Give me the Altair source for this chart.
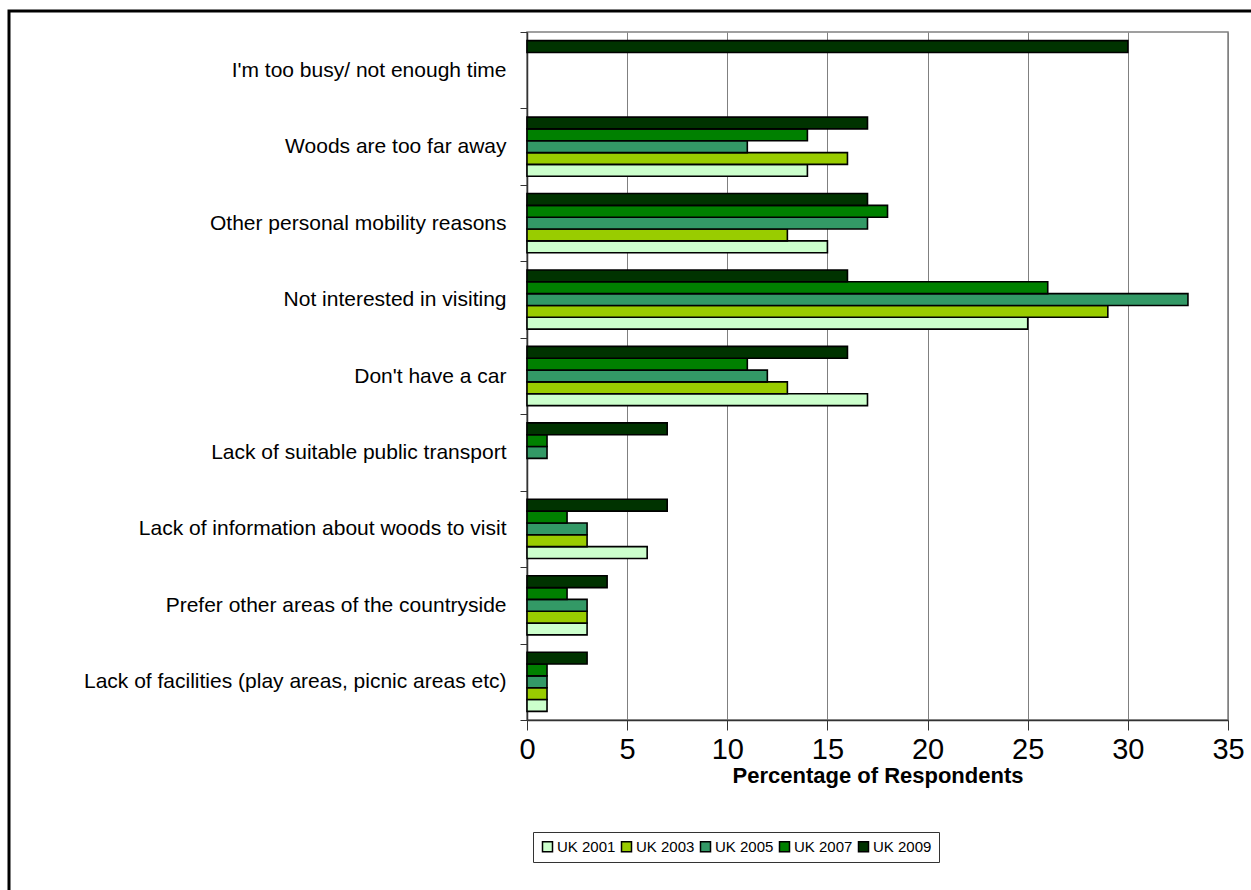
import altair as alt
import pandas as pd

# Reasons for not visiting woodland, top to bottom
categories = [
    "I'm too busy/ not enough time",
    "Woods are too far away",
    "Other personal mobility reasons",
    "Not interested in visiting ",
    "Don't have a car",
    "Lack of suitable public transport",
    "Lack of information about woods to visit",
    "Prefer other areas of the countryside",
    "Lack of facilities (play areas, picnic areas etc)",
]
years = ["UK 2001", "UK 2003", "UK 2005", "UK 2007", "UK 2009"]

# Percentage of respondents per survey year (None = not asked that year)
uk2001 = [None, 14, 15, 25, 17, None, 6, 3, 1]
uk2003 = [None, 16, 13, 29, 13, None, 3, 3, 1]
uk2005 = [None, 11, 17, 33, 12, 1, 3, 3, 1]
uk2007 = [None, 14, 18, 26, 11, 1, 2, 2, 1]
uk2009 = [30, 17, 17, 16, 16, 7, 7, 4, 3]

colors = ["#CCFFCC", "#99CC00", "#339966", "#008000", "#003300"]

rows = []
for year, series in zip(years, [uk2001, uk2003, uk2005, uk2007, uk2009]):
    for cat, val in zip(categories, series):
        if val is not None:
            rows.append({"reason": cat, "year": year, "pct": val})
df = pd.DataFrame(rows)

FONT = "Liberation Sans"

bars = alt.Chart(df).mark_bar(stroke="black", strokeWidth=1.6, cornerRadius=0).encode(
    x=alt.X(
        "pct:Q",
        scale=alt.Scale(domain=[0, 35], nice=False),
        axis=alt.Axis(
            title="Percentage of Respondents",
            values=[0, 5, 10, 15, 20, 25, 30, 35],
            grid=True,
            gridColor="#808080",
            gridWidth=1,
            domainColor="#333333",
            domainWidth=1.5,
            tickColor="#333333",
            tickSize=10,
            labelFontSize=29,
            labelFont=FONT,
            labelColor="black",
            labelPadding=5,
            labelFlush=False,
            titleFont=FONT,
            titleFontSize=22,
            titleFontWeight="bold",
            titleColor="black",
            titlePadding=1,
        ),
    ),
    y=alt.Y(
        "reason:N",
        sort=categories,
        scale=alt.Scale(paddingInner=0, paddingOuter=0),
        axis=alt.Axis(
            title=None,
            tickBand="extent",
            tickSize=7,
            tickColor="#333333",
            domainColor="#333333",
            domainWidth=1.5,
            labelFontSize=21,
            labelFont=FONT,
            labelColor="black",
            labelPadding=14,
            labelLimit=600,
            grid=False,
        ),
    ),
    yOffset=alt.YOffset(
        "year:N",
        scale=alt.Scale(domain=years[::-1], paddingInner=0, paddingOuter=0.73),
    ),
    color=alt.Color(
        "year:N",
        scale=alt.Scale(domain=years, range=colors),
        legend=alt.Legend(
            title=None,
            orient="none",
            legendX=6,
            legendY=800,
            direction="horizontal",
            columns=5,
            symbolType="square",
            symbolSize=100,
            symbolStrokeColor="black",
            symbolStrokeWidth=1.5,
            symbolOpacity=1,
            labelFont=FONT,
            labelFontSize=15,
            labelColor="black",
            labelOffset=2,
            columnPadding=2,
            strokeColor="#333333",
            padding=7,
        ),
    ),
)

# Outer frame around the whole figure
frame = alt.Chart(pd.DataFrame({"f": [0]})).mark_rect(
    filled=False, stroke="black", strokeWidth=3
).encode(
    x=alt.value(-518),
    x2=alt.value(760),
    y=alt.value(-21),
    y2=alt.value(900),
)

chart = (
    alt.layer(bars, frame)
    .properties(
        width=701,
        height=688,
        padding={"left": 527, "top": 32, "right": 23, "bottom": 170},
        autosize=alt.AutoSizeParams(type="none"),
        background="white",
    )
    .configure_view(stroke="#808080", strokeWidth=1.5)
)

chart.save("out.html", embed_options={"renderer": "svg", "actions": False})
